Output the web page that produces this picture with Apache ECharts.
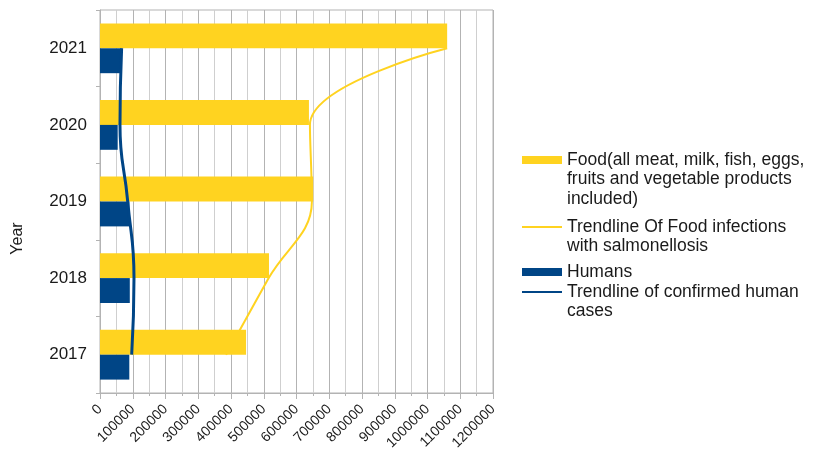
<!DOCTYPE html>
<html>
<head>
<meta charset="utf-8">
<script src="https://cdn.jsdelivr.net/npm/echarts@6/dist/echarts.min.js"></script>
<style>
html,body{margin:0;padding:0;background:#fff;}
#chart{width:814px;height:460px;}
</style>
</head>
<body>
<div id="chart"></div>
<script>
// ---- data ----
const years = ['2017', '2018', '2019', '2020', '2021'];
const foodValues = [446000, 516000, 651000, 638000, 1060000];
const humanValues = [89500, 91000, 89500, 54000, 66000];
const foodTrend = [385000, 515000, 647000, 641000, 1060000];
const humanTrend = [96800, 103800, 84600, 61000, 66000];
const xMin = 0, xMax = 1200000, xStep = 100000;
const yAxisName = 'Year';
const seriesNames = [
  'Food(all meat, milk, fish, eggs, fruits and vegetable products included)',
  'Trendline Of Food infections with salmonellosis',
  'Humans',
  'Trendline of confirmed human cases'
];
const legendLines = [
  ['Food(all meat, milk, fish, eggs,', 'fruits and vegetable products', 'included)'],
  ['Trendline Of Food infections', 'with salmonellosis'],
  ['Humans'],
  ['Trendline of confirmed human', 'cases']
];
// ---- style ----
const YELLOW = '#FFD320';
const BLUE = '#004586';
const FONT = '"Liberation Sans", Arial, sans-serif';
const LH = 19.5;
const legendIconCenters = [160, 227, 272, 292];
const legendIconHeights = [8, 2, 8, 2];

const chart = echarts.init(document.getElementById('chart'));

const legends = legendLines.map((lines, i) => {
  const n = lines.length;
  const blockH = (2 * n - 1) * LH;
  const ih = legendIconHeights[i];
  // first line is centred on the icon: prepend n-1 empty lines
  const txt = new Array(n - 1).fill('').concat(lines).join('\n');
  return {
    show: true,
    data: [seriesNames[i]],
    orient: 'vertical',
    left: 522,
    top: legendIconCenters[i] - Math.max(blockH / 2, ih / 2),
    padding: 0,
    itemWidth: 40,
    itemHeight: ih,
    icon: 'rect',
    formatter: () => txt,
    textStyle: {
      fontFamily: FONT,
      fontSize: 17.5,
      lineHeight: LH,
      color: '#1a1a1a'
    }
  };
});

chart.setOption({
  animation: false,
  backgroundColor: '#fff',
  legend: legends,
  grid: {
    left: 100, top: 10, right: 321, bottom: 67,
    show: true, borderColor: '#b3b3b3', borderWidth: 1
  },
  xAxis: {
    type: 'value',
    min: xMin, max: xMax, interval: xStep,
    axisLine: { show: true, lineStyle: { color: '#b3b3b3' } },
    axisTick: { show: true, length: 6, lineStyle: { color: '#b3b3b3' } },
    minorTick: { show: true, splitNumber: 2, length: 3, lineStyle: { color: '#b3b3b3' } },
    splitLine: { show: true, lineStyle: { color: '#b3b3b3' } },
    minorSplitLine: { show: true, lineStyle: { color: '#cfcfcf' } },
    axisLabel: {
      rotate: 45, margin: 14,
      formatter: v => String(v),
      fontFamily: FONT, fontSize: 14, color: '#1a1a1a'
    }
  },
  yAxis: {
    type: 'category',
    data: years,
    name: yAxisName,
    nameLocation: 'middle',
    nameGap: 74,
    nameRotate: 90,
    nameTextStyle: {
      fontFamily: FONT, fontSize: 16, color: '#1a1a1a',
      padding: [0, 74, 0, 0]
    },
    axisLine: { show: true, lineStyle: { color: '#b3b3b3' } },
    axisTick: { show: true, length: 4, lineStyle: { color: '#b3b3b3' } },
    splitLine: { show: false },
    axisLabel: {
      margin: 13,
      fontFamily: FONT, fontSize: 17, color: '#1a1a1a'
    }
  },
  series: [
    {
      name: seriesNames[0],
      type: 'bar',
      data: foodValues,
      itemStyle: { color: YELLOW },
      barGap: '0%',
      barCategoryGap: '35%',
      z: 2
    },
    {
      name: seriesNames[1],
      type: 'line',
      data: foodTrend,
      smooth: 0.4,
      symbol: 'none',
      lineStyle: { color: YELLOW, width: 2 },
      itemStyle: { color: YELLOW },
      z: 1
    },
    {
      name: seriesNames[2],
      type: 'bar',
      data: humanValues,
      itemStyle: { color: BLUE },
      barGap: '0%',
      barCategoryGap: '35%',
      z: 2
    },
    {
      name: seriesNames[3],
      type: 'line',
      data: humanTrend,
      smooth: 0.5,
      symbol: 'none',
      lineStyle: { color: BLUE, width: 3 },
      itemStyle: { color: BLUE },
      z: 3
    }
  ]
});
</script>
</body>
</html>
